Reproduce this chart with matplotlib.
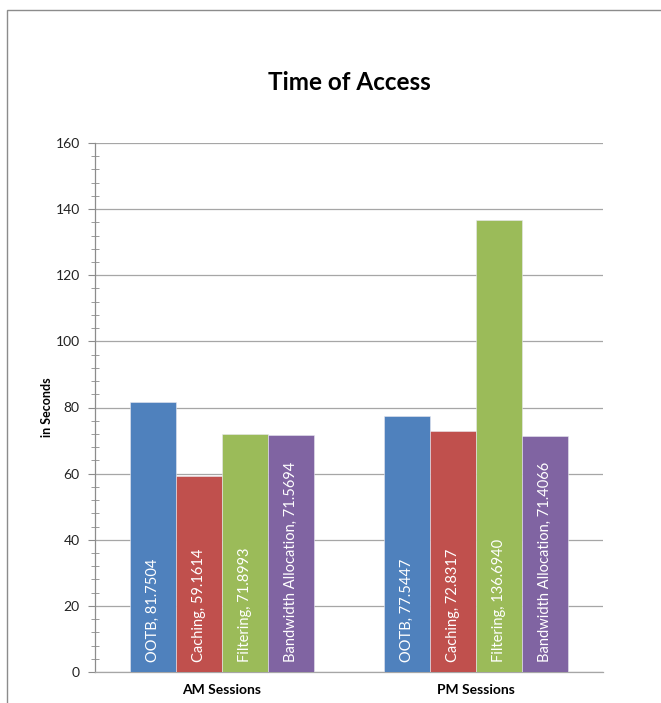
import matplotlib
matplotlib.use("Agg")
import matplotlib.pyplot as plt
from matplotlib.ticker import MultipleLocator
from matplotlib.patches import Rectangle
import numpy as np

categories = ["AM Sessions", "PM Sessions"]
series_names = ["OOTB", "Caching", "Filtering", "Bandwidth Allocation"]
values = {
    "OOTB": [81.7504, 77.5447],
    "Caching": [59.1614, 72.8317],
    "Filtering": [71.8993, 136.6940],
    "Bandwidth Allocation": [71.5694, 71.4066],
}
label_texts = {
    "OOTB": ["81.7504", "77.5447"],
    "Caching": ["59.1614", "72.8317"],
    "Filtering": ["71.8993", "136.6940"],
    "Bandwidth Allocation": ["71.5694", "71.4066"],
}
colors = ["#4F81BD", "#C0504D", "#9BBB59", "#8064A2"]
title = "Time of Access"
ylabel = "in Seconds"

plt.rcParams['font.family'] = ['Lato', 'DejaVu Sans']

W, H = 661, 703
fig = plt.figure(figsize=(W / 100, H / 100), dpi=100)
fig.patch.set_facecolor("white")

# outer chart border (cropped on right/bottom)
fig.add_artist(Rectangle((7 / W, -0.1), 1.2, (H - 10) / H + 0.1,
                         transform=fig.transFigure, fill=False,
                         edgecolor="#8C8C8C", linewidth=1.0))

left, right, top, bottom = 95, 603, 143, 672
ax = fig.add_axes([left / W, (H - bottom) / H, (right - left) / W, (bottom - top) / H])

x = np.arange(len(categories))
bw = 46 / 254
n = len(series_names)
for i, (name, c) in enumerate(zip(series_names, colors)):
    offs = (i - (n - 1) / 2) * bw
    bars = ax.bar(x + offs, values[name], width=bw, color=c,
                  edgecolor="#E8E8F0", linewidth=0.4, zorder=3)
    for b, t in zip(bars, label_texts[name]):
        ax.text(b.get_x() + b.get_width() / 2, 3, f"{name}, {t}",
                rotation=90, ha="center", va="bottom", color="white",
                fontsize=10.5, zorder=4)

ax.set_xlim(-0.5, 1.5)
ax.set_ylim(0, 160)
ax.yaxis.set_major_locator(MultipleLocator(20))
ax.yaxis.set_minor_locator(MultipleLocator(4))
ax.grid(axis="y", which="major", color="#A6A6A6", linewidth=0.9, zorder=0)
ax.set_axisbelow(True)

for s in ["top", "right"]:
    ax.spines[s].set_visible(False)
ax.spines["left"].set_color("#8C8C8C")
ax.spines["bottom"].set_color("#A6A6A6")
ax.spines["left"].set_linewidth(0.9)
ax.spines["bottom"].set_linewidth(0.9)

ax.tick_params(axis="y", which="major", direction="out", length=5,
               color="#8C8C8C", labelsize=10, labelcolor="#222222", pad=6)
ax.tick_params(axis="y", which="minor", direction="inout", length=6,
               color="#8C8C8C")
ax.set_xticks(x)
ax.set_xticklabels(categories, fontweight="bold", fontsize=10)
ax.tick_params(axis="x", length=0, pad=9)

ax.set_ylabel(ylabel, fontweight="bold", fontsize=9, labelpad=2)

fig.text((left + right) / 2 / W, 1 - 82 / H, title, ha="center", va="center",
         fontsize=17.5, fontweight="bold")

fig.savefig("out.png", dpi=100)
